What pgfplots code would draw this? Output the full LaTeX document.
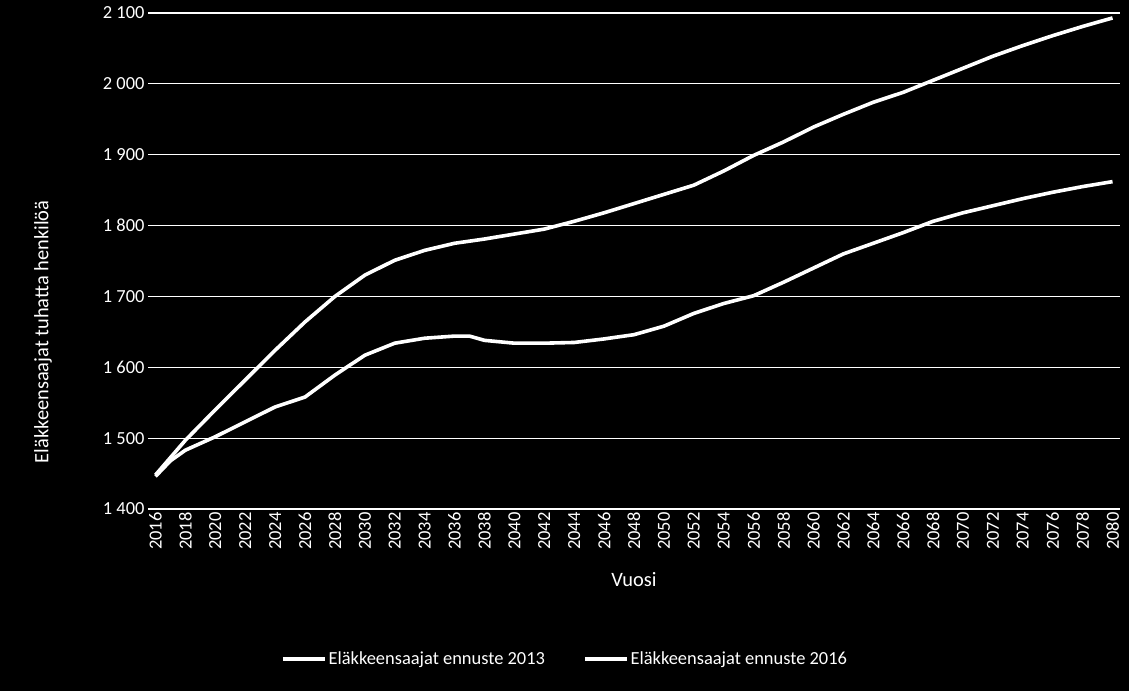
\documentclass[border=0pt]{standalone}
\usepackage{fontspec}
\setmainfont{Carlito}
\usepackage{pgfplots}
\pgfplotsset{compat=1.18}
\pgfplotstableread{
year val
2016 1448
2018 1497
2020 1540
2022 1582
2024 1624
2026 1664
2028 1700
2030 1730
2032 1751
2034 1765
2036 1775
2038 1781
2040 1788
2042 1795
2044 1806
2046 1818
2048 1831
2050 1844
2052 1857
2054 1877
2056 1899
2058 1918
2060 1939
2062 1957
2064 1974
2066 1988
2068 2005
2070 2022
2072 2039
2074 2054
2076 2068
2078 2081
2080 2093
}\enA
\pgfplotstableread{
year val
2016 1446
2017 1468
2018 1483
2020 1502
2022 1523
2024 1544
2026 1558
2028 1589
2030 1617
2032 1634
2034 1641
2036 1644
2037 1644
2038 1638
2040 1634
2042 1634
2044 1635
2046 1640
2048 1646
2050 1658
2052 1676
2054 1690
2056 1701
2058 1720
2060 1740
2062 1760
2064 1775
2066 1790
2068 1806
2070 1818
2072 1828
2074 1838
2076 1847
2078 1855
2080 1862
}\enB
\newcommand{\chf}{\fontsize{18.5}{22}\selectfont}
\newcommand{\lbf}{\fontsize{20.5}{24}\selectfont}
\begin{document}
\begin{tikzpicture}[x=1bp,y=1bp]
\fill[black] (0,0) rectangle (1129,691);
\begin{axis}[
  at={(148bp,182bp)}, anchor=south west,
  scale only axis, width=972bp, height=496bp,
  xmin=2015.5, xmax=2080.5, ymin=1400, ymax=2100,
  axis line style={draw=none},
  major tick length=0pt,
  xtick={2016,2018,...,2080},
  ytick={1400,1500,...,2100},
  ymajorgrids, grid style={white, line width=1.2bp},
  tick label style={white, font=\chf, /pgf/number format/assume math mode=true},
  xticklabel style={rotate=90, anchor=east, /pgf/number format/1000 sep={}},
  yticklabel style={/pgf/number format/1000 sep={\ }},
  xlabel={Vuosi}, ylabel={Eläkkeensaajat tuhatta henkilöä},
  label style={white, font=\lbf},
  xlabel style={at={(axis description cs:0.5,-0.143)}, anchor=center},
  ylabel style={at={(axis description cs:-0.108,0.357)}, anchor=center, rotate=0},
  legend style={at={(axis description cs:0.429,-0.302)}, anchor=center, draw=none, fill=black, text=white,
    font=\chf, legend columns=2, inner sep=0pt,
    /tikz/every even column/.append style={column sep=36bp}},
  legend cell align=left,
  legend image code/.code={\draw[#1] (0bp,0bp) -- (42bp,0bp);},
]
\addplot[white, line width=3.6bp, line join=round] table[x=year,y=val]{\enA};
\addlegendentry{Eläkkeensaajat ennuste 2013}
\addplot[white, line width=3.6bp, line join=round] table[x=year,y=val]{\enB};
\addlegendentry{Eläkkeensaajat ennuste 2016}
\end{axis}
\end{tikzpicture}
\end{document}
